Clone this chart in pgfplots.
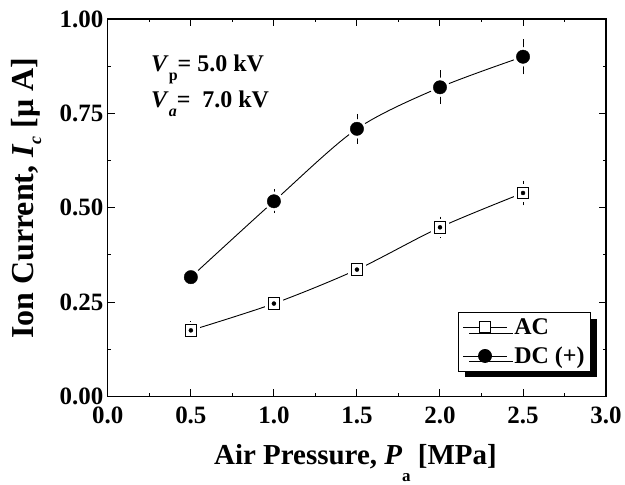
\documentclass[border=0pt]{standalone}
\usepackage{fontspec}
\setmainfont{Liberation Serif}
\usepackage{pgfplots}
\pgfplotsset{compat=1.18}
\usetikzlibrary{shadows}

\begin{document}
\begin{tikzpicture}
\begin{axis}[
    scale only axis,
    width=499pt, height=378pt,
    xmin=0, xmax=3, ymin=0, ymax=1,
    xtick={0,0.5,1,1.5,2,2.5,3},
    ytick={0,0.25,0.5,0.75,1},
    minor x tick num=1, minor y tick num=1,
    tick align=inside,
    major tick length=7pt, minor tick length=3.5pt,
    axis line style={line width=1.3pt},
    every tick/.style={black, line width=1pt},
    /pgf/number format/assume math mode=true,
    tick label style={font=\fontsize{25}{28}\selectfont\bfseries},
    xticklabel style={yshift=-7pt, /pgf/number format/fixed, /pgf/number format/fixed zerofill, /pgf/number format/precision=1},
    yticklabel style={xshift=-1pt, /pgf/number format/fixed, /pgf/number format/fixed zerofill, /pgf/number format/precision=2},
    xlabel={Air Pressure, \textit{P}\raisebox{-17pt}{\fontsize{17}{20}\selectfont a} [MPa]},
    xlabel style={font=\fontsize{29}{33}\selectfont\bfseries, at={(rel axis cs:0.497,-0.18)}, anchor=base},
    ylabel={Ion Current, \textit{I}\raisebox{-8pt}{\fontsize{18}{20}\selectfont\itshape c} [μ A]},
    ylabel style={font=\fontsize{32}{36}\selectfont\bfseries, at={(rel axis cs:-0.150,0.525)}, anchor=base, rotate=0},
    legend style={at={(rel axis cs:0.970,0.066)}, anchor=south east,
        draw=black, line width=1pt, fill=white,
        font=\fontsize{24}{28}\selectfont\bfseries,
        drop shadow={shadow xshift=6pt, shadow yshift=-6pt, opacity=1, fill=black},
        row sep=7pt, inner sep=4pt},
    legend cell align=left,
    legend image code/.code={
        \draw[mark repeat=2, mark phase=2, #1] plot coordinates {(0pt,0pt) (22pt,0pt) (44pt,0pt)};
        \path (49pt,0pt);},
    clip=false,
]
\addlegendimage{black, line width=0.9pt, mark=square*, mark size=5.5pt, mark options={fill=white, solid}}
\addlegendentry{AC}
\addlegendimage{black, line width=0.9pt, mark=*, mark size=6.5pt, mark options={fill=black, solid}}
\addlegendentry{DC (+)}

% connecting curves
\addplot[black, line width=0.9pt, smooth, forget plot] coordinates {
    (0.5,0.175) (1.0,0.246) (1.5,0.336) (2.0,0.448) (2.5,0.539)};
\addplot[black, line width=0.9pt, smooth, forget plot] coordinates {
    (0.5,0.316) (1.0,0.517) (1.5,0.709) (2.0,0.819) (2.5,0.900)};

% white halos that open a gap between curve and symbol
\addplot[only marks, mark=square*, mark size=8.5pt, white, forget plot] coordinates {
    (0.5,0.175) (1.0,0.246) (1.5,0.336) (2.0,0.448) (2.5,0.539)};
\addplot[only marks, mark=*, mark size=9.5pt, white, forget plot] coordinates {
    (0.5,0.316) (1.0,0.517) (1.5,0.709) (2.0,0.819) (2.5,0.900)};

% symbols
\addplot[only marks, mark=square*, mark size=5.8pt, mark options={fill=white, draw=black, line width=1pt}, forget plot] coordinates {
    (0.5,0.175) (1.0,0.246) (1.5,0.336) (2.0,0.448) (2.5,0.539)};
\addplot[only marks, mark=*, mark size=6.7pt, mark options={fill=black, draw=black}, forget plot] coordinates {
    (0.5,0.316) (1.0,0.517) (1.5,0.709) (2.0,0.819) (2.5,0.900)};

% error bars
\addplot[only marks, mark=none, forget plot,
    error bars/.cd, y dir=both, y explicit,
    error bar style={black, line width=0.8pt},
    error mark options={black, mark size=4pt, line width=0.8pt}] coordinates {
    (0.5,0.175) +- (0,0.013)
    (1.0,0.246) +- (0,0.008)
    (1.5,0.336) +- (0,0.006)
    (2.0,0.448) +- (0,0.018)
    (2.5,0.539) +- (0,0.022)};
\addplot[only marks, mark=none, forget plot,
    error bars/.cd, y dir=both, y explicit,
    error bar style={black, line width=0.8pt},
    error mark options={black, mark size=4pt, line width=0.8pt}] coordinates {
    (0.5,0.316) +- (0,0.008)
    (1.0,0.517) +- (0,0.021)
    (1.5,0.709) +- (0,0.029)
    (2.0,0.819) +- (0,0.034)
    (2.5,0.900) +- (0,0.036)};

\node[anchor=base west, font=\fontsize{24}{28}\selectfont\bfseries] at (axis cs:0.24,0.860)
    {\textit{V}\raisebox{-9pt}{\fontsize{16}{18}\selectfont p}= 5.0 kV};
\node[anchor=base west, font=\fontsize{24}{28}\selectfont\bfseries] at (axis cs:0.24,0.765)
    {\textit{V}\raisebox{-9pt}{\fontsize{16}{18}\selectfont\itshape a}=\ \ 7.0 kV};

% page extent of the reference
\path (rel axis cs:-0.2164,-0.2302) rectangle (rel axis cs:1.0361,1.0503);
\end{axis}
\end{tikzpicture}
\end{document}
